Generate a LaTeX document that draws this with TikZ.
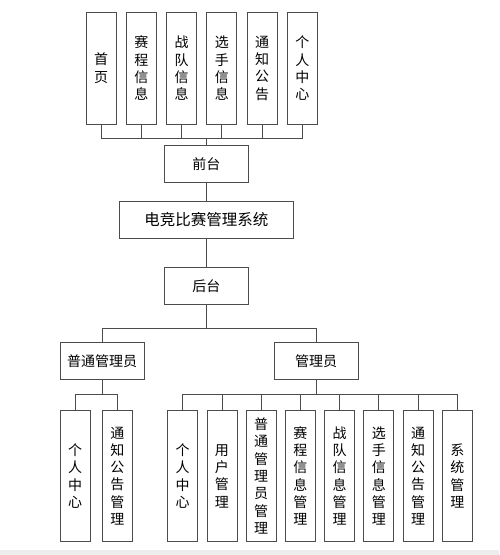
\documentclass[tikz,border=0pt]{standalone}
\usepackage{fontspec}
\setmainfont{Noto Sans CJK SC}
\usepackage{tikz}
\usetikzlibrary{positioning}

\tikzset{
  line/.style={draw=black!70, line width=0.8pt},
  hbox/.style={line, minimum width=84pt, minimum height=37pt, inner sep=0pt,
    font=\fontsize{14}{17}\selectfont},
  vbox/.style={line, minimum width=30pt, minimum height=#1, inner sep=0pt,
    align=center, font=\fontsize{14}{17.3}\selectfont},
}

\begin{document}
\begin{tikzpicture}[x=1pt, y=-1pt]
  \useasboundingbox (0,0) rectangle (499,555);
  \fill[black!7] (0,550) rectangle (499,555);

  % front end
  \foreach \t [count=\i] in {首\\页, 赛\\程\\信\\息, 战\\队\\信\\息,
      选\\手\\信\\息, 通\\知\\公\\告, 个\\人\\中\\心}
    \node[vbox=112pt] (t\i) at ({101+40.25*(\i-1)},68.3) {\t};
  \node[hbox] (front) at (206.3,164.3) {前台};
  \node[hbox, minimum width=174pt, font=\fontsize{15.5}{18}\selectfont]
    (sys) at (206.3,219.5) {电竞比赛管理系统};
  \node[hbox] (back) at (206.3,286) {后台};

  % back end
  \node[hbox] (gm) at (102.2,360.8) {普通管理员};
  \node[hbox] (admin) at (316.2,360.8) {管理员};
  \node[vbox=130.6pt] (l1) at (75.2,476) {个\\人\\中\\心};
  \node[vbox=130.6pt] (l2) at (117.3,476) {通\\知\\公\\告\\管\\理};
  \foreach \t [count=\i] in {个\\人\\中\\心, 用\\户\\管\\理,
      普\\通\\管\\理\\员\\管\\理, 赛\\程\\信\\息\\管\\理,
      战\\队\\信\\息\\管\\理, 选\\手\\信\\息\\管\\理,
      通\\知\\公\\告\\管\\理, 系\\统\\管\\理}
    \node[vbox=130.6pt] (r\i) at ({182.7+39.23*(\i-1)},476) {\t};

  % links
  \foreach \i in {1,...,6}
    \draw[line] (front.north) -- ++(0,-7.4) -| (t\i.south);
  \draw[line] (front) -- (sys);
  \draw[line] (sys) -- (back);
  \draw[line] (back.south) -- ++(0,23.3) -| (gm.north);
  \draw[line] (back.south) -- ++(0,23.3) -| (admin.north);
  \foreach \i in {1,2}
    \draw[line] (gm.south) -- ++(0,14.4) -| (l\i.north);
  \foreach \i in {1,...,8}
    \draw[line] (admin.south) -- ++(0,14.4) -| (r\i.north);
\end{tikzpicture}
\end{document}
